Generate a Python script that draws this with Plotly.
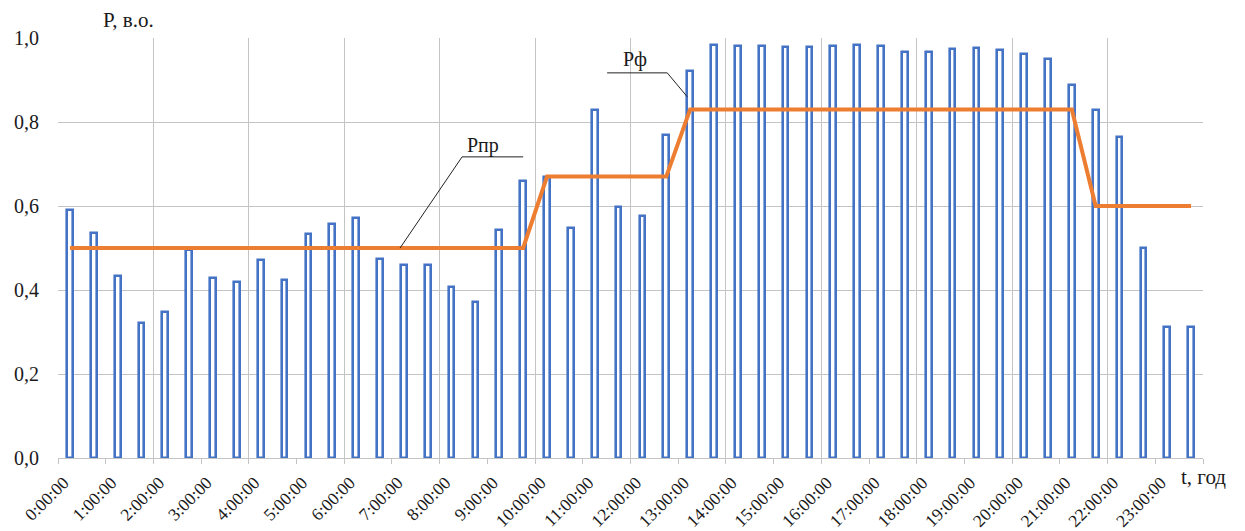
import plotly.graph_objects as go

# Half-hour intervals (start times) and measured power, relative units
interval_start = [f"{h}:{m:02d}" for h in range(24) for m in (0, 30)]
p_actual = [0.59, 0.535, 0.433, 0.321, 0.347, 0.495, 0.428, 0.419, 0.471, 0.424,
            0.533, 0.557, 0.571, 0.475, 0.46, 0.46, 0.408, 0.372, 0.543, 0.66,
            0.67, 0.548, 0.829, 0.597, 0.576, 0.769, 0.922, 0.983, 0.982, 0.981,
            0.979, 0.978, 0.982, 0.983, 0.982, 0.967, 0.967, 0.973, 0.977, 0.971,
            0.963, 0.95, 0.889, 0.829, 0.764, 0.50, 0.313, 0.313]
p_plan = [0.5] * 20 + [0.67] * 6 + [0.83] * 17 + [0.6] * 5
hour_labels = [f"{h}:00:00" for h in range(24)]

def to_hours(s):
    h, m = s.split(":")
    return int(h) + int(m) / 60 + 0.25  # centre of half-hour slot

x_centres = [to_hours(s) for s in interval_start]

FONT = "Liberation Serif"
TXT = "#1a1a1a"
GRID = "#c4c4c4"
LABEL_SHIFT = 0.12  # labels sit slightly right of their tick, as in the original

fig = go.Figure()
fig.add_trace(go.Bar(
    x=x_centres, y=p_actual, width=0.12,
    marker=dict(color="white", line=dict(color="#4472C4", width=2.6)),
    xaxis="x2", yaxis="y", showlegend=False, hoverinfo="skip"))
fig.add_trace(go.Scatter(
    x=x_centres, y=p_plan, mode="lines",
    line=dict(color="#ED7D31", width=4),
    xaxis="x2", yaxis="y", showlegend=False, hoverinfo="skip"))

fig.update_layout(
    width=1245, height=531,
    margin=dict(l=58, r=42, t=38, b=73),
    paper_bgcolor="white", plot_bgcolor="white",
    separators=",.",
    font=dict(family=FONT, color=TXT),
    bargap=0,
    xaxis=dict(range=[0, 24], tickmode="array", tickvals=list(range(0, 25, 2)),
               showticklabels=False, showgrid=True, gridcolor=GRID, gridwidth=1,
               zeroline=False, showline=False, ticks="", automargin=False),
    xaxis2=dict(overlaying="x", anchor="y", side="bottom", range=[0, 24],
                tickmode="array", tickvals=list(range(25)), showticklabels=False,
                ticks="outside", ticklen=5, tickcolor=GRID,
                showline=True, linecolor=GRID, linewidth=1,
                showgrid=False, zeroline=False, automargin=False),
    xaxis3=dict(overlaying="x", anchor="y", side="bottom", range=[0, 24],
                tickmode="array", tickvals=[h + LABEL_SHIFT for h in range(24)],
                ticktext=hour_labels,
                tickangle=-45, tickfont=dict(family=FONT, size=17.5, color=TXT),
                ticks="", showline=False, showgrid=False, zeroline=False,
                automargin=False, ticklabelstandoff=10),
    yaxis=dict(range=[0, 1], dtick=0.2, tickformat=".1f",
               tickfont=dict(family=FONT, size=20, color=TXT),
               showgrid=True, gridcolor=GRID, gridwidth=1, zeroline=False,
               showline=False, ticks="", ticklabelstandoff=18, automargin=False),
)
# invisible trace so that xaxis3 (the hour labels) is drawn
fig.add_trace(go.Scatter(x=[0, 24], y=[0, 0], mode="markers", marker=dict(opacity=0),
                         xaxis="x3", yaxis="y", showlegend=False, hoverinfo="skip"))

fig.add_annotation(text="P, в.о.", xref="paper", yref="paper",
                   x=(101 - 58) / 1145, y=(458 - 20) / 420, xanchor="left", yanchor="middle",
                   showarrow=False, font=dict(family=FONT, size=21, color=TXT))
fig.add_annotation(text="t, год", xref="paper", yref="paper",
                   x=(1179 - 58) / 1145, y=(458 - 477) / 420, xanchor="left", yanchor="middle",
                   showarrow=False, font=dict(family=FONT, size=21, color=TXT))
fig.add_annotation(text="Pпр", xref="x", yref="y", x=8.9, y=0.745,
                   xanchor="center", yanchor="middle", showarrow=False,
                   font=dict(family=FONT, size=20, color=TXT))
fig.add_annotation(text="Pф", xref="x", yref="y", x=12.1, y=0.948,
                   xanchor="center", yanchor="middle", showarrow=False,
                   font=dict(family=FONT, size=20, color=TXT))

fig.add_shape(type="path", xref="x", yref="y",
              path="M 9.75 0.717 L 8.47 0.717 L 7.17 0.5",
              line=dict(color="#222222", width=1))
fig.add_shape(type="path", xref="x", yref="y",
              path="M 11.51 0.917 L 12.77 0.917 L 13.19 0.86",
              line=dict(color="#222222", width=1))

fig.write_html("out.html", config={"displayModeBar": False},
               post_script="document.body.style.margin='0';document.body.style.overflow='hidden';")
